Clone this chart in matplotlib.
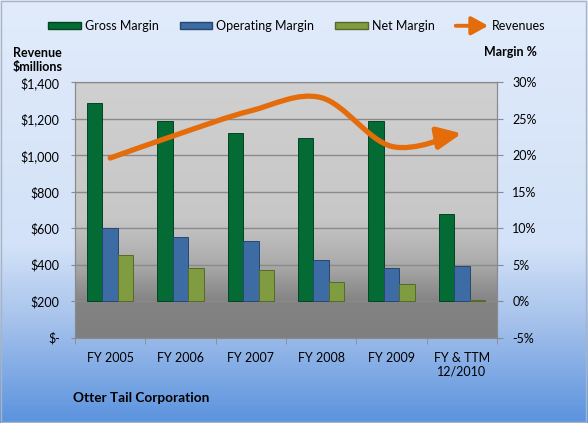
import numpy as np
import matplotlib
matplotlib.use("Agg")
import matplotlib.pyplot as plt
from matplotlib.colors import LinearSegmentedColormap
from matplotlib.patches import Patch, FancyArrowPatch, Rectangle
from matplotlib.path import Path
from matplotlib.legend_handler import HandlerBase
from matplotlib.ticker import FuncFormatter, MultipleLocator

plt.rcParams['font.family'] = ['Lato', 'DejaVu Sans']
plt.rcParams['font.size'] = 9

# data
categories = ["FY 2005", "FY 2006", "FY 2007", "FY 2008", "FY 2009", "FY & TTM\n12/2010"]
gross_margin = [27.1, 24.7, 23.0, 22.4, 24.7, 12.0]      # %
operating_margin = [10.1, 8.8, 8.2, 5.7, 4.5, 4.8]      # %
net_margin = [6.4, 4.6, 4.3, 2.6, 2.4, 0.1]             # %
revenues = [985, 1120, 1244, 1316, 1049, 1120]          # $ millions

GREEN = '#036b33'
BLUE = '#3d6ba3'
OLIVE = '#7f9d40'
ORANGE = '#e46c0a'
GRID = '#8a8a8a'


class HandlerArrow(HandlerBase):
    def create_artists(self, legend, orig_handle, xdescent, ydescent,
                       width, height, fontsize, trans):
        y = height / 2 - ydescent
        a = FancyArrowPatch((-xdescent, y), (width - xdescent, y),
                            arrowstyle='-|>,head_length=1.0,head_width=0.55',
                            mutation_scale=10, color=ORANGE, lw=2.8,
                            shrinkA=0, shrinkB=0, capstyle='round', transform=trans)
        return [a]


fig = plt.figure(figsize=(5.88, 4.23), dpi=100)

# figure background gradient
bg = fig.add_axes([0, 0, 1, 1], zorder=-10)
bg_cmap = LinearSegmentedColormap.from_list(
    'bg', [(0, '#5b93de'), (0.25, '#a9c4ec'), (0.42, '#d3e2f8'), (1, '#e1ebfb')])
bg.imshow(np.linspace(0, 1, 256).reshape(-1, 1), cmap=bg_cmap, aspect='auto',
          extent=[0, 1, 0, 1], origin='lower')
bg.axis('off')
fig.patches.append(Rectangle((0.002, 0.003), 0.995, 0.994, transform=fig.transFigure,
                             fill=False, ec='#a8b4c4', lw=1))

# margin axis (bars), labels on the right
ax = fig.add_axes([0.1276, 0.2017, 0.7176, 0.6037])
ax2 = ax.twinx()   # revenue axis, labels on the left

plot_cmap = LinearSegmentedColormap.from_list(
    'plot', [(0, '#7f7f7f'), (0.14, '#838383'), (0.3, '#adadad'),
             (0.47, '#c7c7c7'), (1, '#d0d0d0')])
ax.imshow(np.linspace(0, 1, 256).reshape(-1, 1), cmap=plot_cmap, aspect='auto',
          extent=[0, 1, 0, 1], origin='lower', transform=ax.transAxes, zorder=0)

x = np.arange(len(categories))
w = 0.22
ax.bar(x - w, gross_margin, w, color=GREEN, edgecolor='#024422', lw=0.7, zorder=3)
ax.bar(x, operating_margin, w, color=BLUE, edgecolor='#27476f', lw=0.7, zorder=3)
ax.bar(x + w, net_margin, w, color=OLIVE, edgecolor='#56692b', lw=0.7, zorder=3)

ax.set_xlim(-0.5, len(categories) - 0.5)
ax.set_ylim(-5, 30)
ax.yaxis.tick_right()
ax.yaxis.set_major_locator(MultipleLocator(5))
ax.yaxis.set_major_formatter(FuncFormatter(lambda v, p: '{:.0f}%'.format(v)))
ax.yaxis.grid(True, color=GRID, lw=1)
ax.set_axisbelow(True)
ax.tick_params(axis='y', direction='out', length=4, color=GRID, pad=7)
ax.set_xticks(x, categories)
ax.tick_params(axis='x', which='major', length=0, pad=10)
ax.set_xticks(np.arange(-0.5, len(categories), 1), minor=True)
ax.tick_params(axis='x', which='minor', length=4, direction='out', color=GRID)
for s in ax.spines.values():
    s.set_color(GRID)

ax2.set_ylim(0, 1400)
ax2.yaxis.tick_left()
ax2.yaxis.set_major_locator(MultipleLocator(200))
ax2.yaxis.set_major_formatter(
    FuncFormatter(lambda v, p: '$-' if v == 0 else '${:,.0f}'.format(v)))
ax2.tick_params(axis='y', direction='out', length=3, color=GRID, pad=8)
for s in ax2.spines.values():
    s.set_color(GRID)

# smoothed revenue line ending in an arrow
pts = np.column_stack([x.astype(float), np.array(revenues, dtype=float)])
n = len(pts)
verts = [pts[0]]
for i in range(n - 1):
    p_prev = pts[max(i - 1, 0)]
    p_next2 = pts[min(i + 2, n - 1)]
    verts += [pts[i] + (pts[i + 1] - p_prev) / 6,
              pts[i + 1] - (p_next2 - pts[i]) / 6,
              pts[i + 1]]
codes = [Path.MOVETO] + [Path.CURVE4] * (3 * (n - 1))
arrow = FancyArrowPatch(path=Path(verts, codes),
                        arrowstyle='-|>,head_length=1.2,head_width=0.55',
                        mutation_scale=12, color=ORANGE, lw=3.8,
                        capstyle='round', joinstyle='round', zorder=4)
ax2.add_patch(arrow)

# legend
handles = [Patch(fc=GREEN, ec='#024422'), Patch(fc=BLUE, ec='#27476f'),
           Patch(fc=OLIVE, ec='#56692b'),
           FancyArrowPatch((0, 0), (1, 0))]
labels = ['Gross Margin', 'Operating Margin', 'Net Margin', 'Revenues']
fig.legend(handles, labels, ncol=4, loc='center', bbox_to_anchor=(0.505, 0.938),
           frameon=False, handlelength=2.6, handleheight=0.45, handletextpad=0.3,
           columnspacing=1.7, handler_map={FancyArrowPatch: HandlerArrow()})

fig.text(13 / 588, 1 - 53 / 423, 'Revenue', fontweight='bold', va='center')
fig.text(13 / 588, 1 - 67 / 423, '$millions', fontweight='bold', va='center')
fig.text(537 / 588, 1 - 52 / 423, 'Margin %', fontweight='bold', ha='right', va='center')
fig.text(73 / 588, 1 - 398 / 423, 'Otter Tail Corporation', fontweight='bold',
         fontsize=9.8, va='center')

fig.savefig('out.png', dpi=100)
